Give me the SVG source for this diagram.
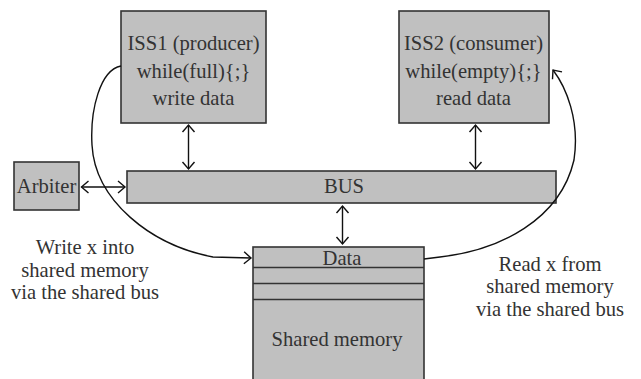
<svg xmlns="http://www.w3.org/2000/svg" width="641" height="379" viewBox="0 0 641 379">
  <style>
    .box { fill: #c0c0c0; stroke: #333333; stroke-width: 1.6; }
    .sep { stroke: #333333; stroke-width: 1.6; fill: none; }
    .lbl { font-family: "Liberation Serif", "Times New Roman", serif; font-size: 20.6px; fill: #333333; text-anchor: middle; }
    .wire { stroke: #111111; stroke-width: 1.4; fill: none; }
  </style>
  <defs>
    <marker id="head" markerUnits="userSpaceOnUse" markerWidth="16" markerHeight="16" viewBox="-8 -8 16 16" refX="0" refY="0" orient="auto-start-reverse">
      <path d="M-7,-6 L0,0 L-7,6" fill="none" stroke="#111111" stroke-width="1.4"/>
    </marker>
  </defs>
  <rect width="641" height="379" fill="#ffffff"/>

  <g id="iss1">
    <rect class="box" x="121" y="11" width="145" height="112"/>
    <text class="lbl" x="193.5" y="50">ISS1 (producer)</text>
    <text class="lbl" x="193.5" y="77.5">while(full){;}</text>
    <text class="lbl" x="193.5" y="105">write data</text>
  </g>

  <g id="iss2">
    <rect class="box" x="399" y="11" width="150" height="112"/>
    <text class="lbl" x="473.5" y="50">ISS2 (consumer)</text>
    <text class="lbl" x="473.5" y="77.5">while(empty){;}</text>
    <text class="lbl" x="473.5" y="105">read data</text>
  </g>

  <g id="arbiter">
    <rect class="box" x="14" y="162" width="65" height="48"/>
    <text class="lbl" x="46.5" y="193">Arbiter</text>
  </g>

  <g id="bus">
    <rect class="box" x="127" y="171" width="429" height="32"/>
    <text class="lbl" x="344" y="193">BUS</text>
  </g>

  <g id="memory">
    <rect class="box" x="253" y="247" width="171" height="140"/>
    <line class="sep" x1="253" y1="267.5" x2="424" y2="267.5"/>
    <line class="sep" x1="253" y1="283.5" x2="424" y2="283.5"/>
    <line class="sep" x1="253" y1="299.5" x2="424" y2="299.5"/>
    <text class="lbl" x="342" y="265">Data</text>
    <text class="lbl" x="337" y="346">Shared memory</text>
  </g>

  <g id="write-note">
    <text class="lbl" x="85" y="254">Write x into</text>
    <text class="lbl" x="85" y="277">shared memory</text>
    <text class="lbl" x="85" y="299">via the shared bus</text>
  </g>

  <g id="read-note">
    <text class="lbl" x="550" y="271">Read x from</text>
    <text class="lbl" x="550" y="293">shared memory</text>
    <text class="lbl" x="550" y="316">via the shared bus</text>
  </g>

  <g id="connectors">
    <line class="wire" x1="188.5" y1="125" x2="188.5" y2="169" marker-start="url(#head)" marker-end="url(#head)"/>
    <line class="wire" x1="475.5" y1="125" x2="475.5" y2="169" marker-start="url(#head)" marker-end="url(#head)"/>
    <line class="wire" x1="342.5" y1="206" x2="342.5" y2="244" marker-start="url(#head)" marker-end="url(#head)"/>
    <line class="wire" x1="81.5" y1="187" x2="125" y2="187" marker-start="url(#head)" marker-end="url(#head)"/>
    <path class="wire" d="M121,66 C100,70 90,110 92,145 C95,200 150,245 213,257 L251,258" marker-end="url(#head)"/>
    <path class="wire" d="M424,259 L440,257 C500,250 560,220 574,160 C580,120 566,87 553,70" marker-end="url(#head)"/>
  </g>
</svg>
